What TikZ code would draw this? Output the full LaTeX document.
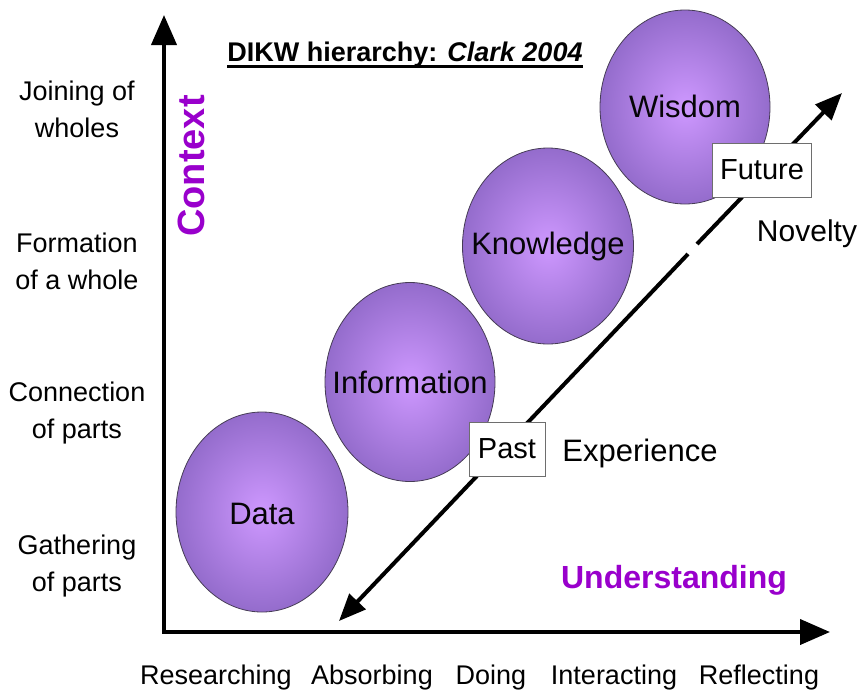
\documentclass[tikz,border=0pt]{standalone}
\usepackage{fontspec}
\setmainfont{Liberation Sans}
\usetikzlibrary{arrows.meta,shapes.geometric}
\definecolor{ctxpurple}{RGB}{153,0,204}
\definecolor{ballin}{RGB}{206,152,255}
\definecolor{ballout}{RGB}{148,108,204}
\definecolor{ballrim}{RGB}{70,60,85}
\definecolor{boxrim}{RGB}{110,110,110}
\begin{document}
\begin{tikzpicture}[x=1pt,y=-1pt,
  ball/.style={ellipse, draw=ballrim, line width=0.8pt, shading=radial,
    inner color=ballin, outer color=ballout, inner sep=0pt},
  balltext/.style={text=black!92!ballrim, font=\fontsize{31}{31}\selectfont, inner sep=0pt},
  tagbox/.style={draw=boxrim, fill=white, line width=1pt, inner sep=0pt,
    minimum height=54pt, font=\fontsize{29}{29}\selectfont},
  lbl/.style={font=\fontsize{27}{37}\selectfont, align=center},
  bigpurple/.style={text=ctxpurple, font=\bfseries\fontsize{32}{32}\selectfont},
  axisline/.style={line width=4pt, line join=miter},
  diagline/.style={line width=4pt}
]
\useasboundingbox (0,0) rectangle (865,697);

% circles
\node[ball, minimum width=172pt, minimum height=200pt] (data) at (262,512) {};
\node[ball, minimum width=170pt, minimum height=199pt] (info) at (410,382) {};
\node[ball, minimum width=171pt, minimum height=196pt] (know) at (548,246) {};
\node[ball, minimum width=170pt, minimum height=194pt] (wis) at (685,107) {};
\node[balltext] (datat) at ([yshift=-2pt]data.center) {Data};
\node[balltext] (infot) at (info.center) {Information};
\node[balltext] (knowt) at (know.center) {Knowledge};
\node[balltext] (wist) at ([yshift=1pt]wis.center) {Wisdom};

% axes
\coordinate (ytop) at (164,15);
\coordinate (O) at (164,632);
\coordinate (xend) at (830,632);
\draw[axisline, {Triangle[length=30pt,width=25pt]}-{Triangle[length=30pt,width=25pt]}] (ytop) -- (O) -- (xend);

% diagonal arrow
\coordinate (dA) at (339,621);
\coordinate (g1) at (688,254);
\coordinate (g2) at (697,244);
\coordinate (dB) at (842,93);
\draw[diagline, {Triangle[length=27pt,width=22pt]}-] (dA) -- (g1);
\draw[diagline, -{Triangle[length=27pt,width=22pt]}] (g2) -- (dB);

% boxes
\node[tagbox, minimum width=76pt] (past) at (507,449) {Past};
\node[tagbox, minimum width=99pt] (future) at (762,170) {Future};

% title
\node[anchor=base, font=\bfseries\fontsize{27}{27}\selectfont, inner sep=0pt] (title) at (405,61)
  {DIKW hierarchy: \textit{Clark 2004}};
\draw[line width=2.2pt] ([yshift=-5.5pt]title.base west) -- ([yshift=-5.5pt]title.base east);

% axis titles
\node[bigpurple, rotate=90, font=\bfseries\fontsize{38}{38}\selectfont] (ctx) at (191,166) {Context};
\node[bigpurple] (und) at (674,580) {Understanding};
\node[font=\fontsize{31}{31}\selectfont] (exp) at (640,453) {Experience};
\node[font=\fontsize{30}{30}\selectfont] (nov) at (807,234) {Novelty};

% left labels
\node[lbl] (l4) at (77,109) {Joining of\\wholes};
\node[lbl] (l3) at (77,261) {Formation\\of a whole};
\node[lbl] (l2) at (77,413) {Connection\\of parts};
\node[lbl] (l1) at (77,566) {Gathering\\of parts};

% bottom labels
\node[lbl] (b1) at (216,678) {Researching};
\node[lbl] (b2) at (372,678) {Absorbing};
\node[lbl] (b3) at (491,678) {Doing};
\node[lbl] (b4) at (614,678) {Interacting};
\node[lbl] (b5) at (759,678) {Reflecting};
\end{tikzpicture}
\end{document}
